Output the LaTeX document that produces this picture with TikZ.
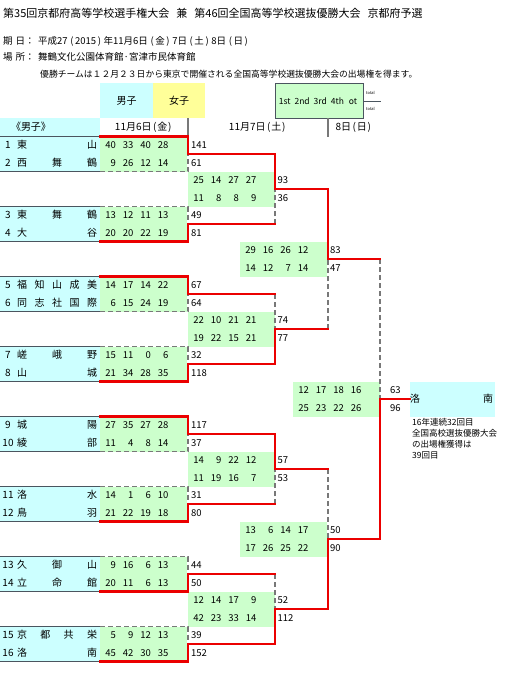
\documentclass[tikz,border=0pt]{standalone}
\usepackage{fontspec}
\setmainfont{Noto Sans CJK JP}
\definecolor{cy}{RGB}{204,255,255}
\definecolor{ye}{RGB}{255,255,153}
\definecolor{gr}{RGB}{204,255,204}
\definecolor{rd}{RGB}{235,0,0}
\definecolor{dg}{RGB}{120,120,120}
\definecolor{tl}{RGB}{75,85,95}
\newcommand\LP{\kern1.5pt(\kern0.8pt}
\newcommand\RP{\kern0.8pt)\kern1.5pt}
\newcommand\LPw{\kern2.6pt(\kern1.6pt}
\newcommand\RPw{\kern1.6pt)\kern2.6pt}
\pgfdeclarelayer{redl}
\pgfsetlayers{main,redl}
\tikzset{
  win/.style={draw=rd, line width=2.4pt, line cap=rect, line join=miter},
  lose/.style={draw=dg, line width=1.3pt, dash pattern=on 5pt off 3pt},
  tline/.style={draw=tl, line width=1.3pt},
  sepline/.style={draw=dg, line width=1.3pt},
  sc/.style={font=\fontsize{9.5}{10}\selectfont, inner sep=0pt, anchor=base east},
  tot/.style={font=\fontsize{9.5}{10}\selectfont, inner sep=0pt, anchor=base west},
  nm/.style={font=\fontsize{10}{11}\selectfont, inner sep=0pt, anchor=base},
  hd/.style={font=\fontsize{10}{11}\selectfont, inner sep=0pt, anchor=base},
  txt/.style={inner sep=0pt, anchor=base west},
}
\newcommand\teamrow[4]{%
  \pgfmathsetmacro\tyb{148.75+17.5*#2}
  \node[nm] (num#1) at (8,\tyb) {#1};
  \foreach \ch [count=\ii from 0] in {#4} {
    \pgfmathsetmacro\txc{22+70*\ii/(#3-1)}
    \node[nm] (nm#1c\ii) at (\txc,\tyb) {\ch};
  }
}
\newcommand\scorerow[5]{%
  \foreach \qv [count=\ii from 0] in {#3} {
    \node[sc] (q#1r#2c\ii) at ({#1+16+17.5*\ii},{148.75+17.5*#2}) {\qv};
  }
  \node[tot] (tot#1r#2) at (#4,{148.75+17.5*#2}) {#5};
}
\newcommand\rone[2]{%
  \pgfmathsetmacro\bkA{136.5+70*#1}
  \pgfmathsetmacro\bkB{171.5+70*#1}
  \pgfmathsetmacro\bkM{154+70*#1}
  \draw[tline] (0,\bkA) -- (100,\bkA);
  \draw[tline] (0,\bkB) -- (100,\bkB);
  \if#2t
    \draw[lose] (100,\bkB) -- (188,\bkB) -- (188,\bkM);
    \begin{pgfonlayer}{redl}
    \draw[win] (100,\bkA) -- (188,\bkA) -- (188,\bkM) -- (275,\bkM);
    \end{pgfonlayer}
  \else
    \draw[lose] (100,\bkA) -- (188,\bkA) -- (188,\bkM);
    \begin{pgfonlayer}{redl}
    \draw[win] (100,\bkB) -- (188,\bkB) -- (188,\bkM) -- (275,\bkM);
    \end{pgfonlayer}
  \fi
}
\newcommand\bk[5]{%
  \pgfmathsetmacro\bkM{(#2+#3)/2}
  \if#5t
    \draw[lose] (#1,#3) -- (#1,\bkM);
    \begin{pgfonlayer}{redl}
    \draw[win] (#1,#2) -- (#1,\bkM) -- (#4,\bkM);
    \end{pgfonlayer}
  \else
    \draw[lose] (#1,#2) -- (#1,\bkM);
    \begin{pgfonlayer}{redl}
    \draw[win] (#1,#3) -- (#1,\bkM) -- (#4,\bkM);
    \end{pgfonlayer}
  \fi
}
\begin{document}
\begin{tikzpicture}[x=1pt,y=-1pt]
\useasboundingbox (0,0) rectangle (517,680);
\fill[white] (0,0) rectangle (517,680);
% ---- header texts
\node[txt, font=\fontsize{11}{12}\selectfont] (title) at (3,17) {第35回京都府高等学校選手権大会\hspace{7pt}兼\hspace{7pt}第46回全国高等学校選抜優勝大会\hspace{7pt}京都府予選};
\node[txt, font=\fontsize{9.5}{10}\selectfont] (kijitsu) at (3,44.5) {期\hspace{3pt}日：};
\node[txt, font=\fontsize{9.5}{10}\selectfont] (kijitsuv) at (38,44.5) {平成27\LPw2015\RPw 年11月6日\LPw 金\RPw 7日\LPw 土\RPw 8日\LPw 日\RPw};
\node[txt, font=\fontsize{9.5}{10}\selectfont] (basho) at (3,60.5) {場\hspace{3pt}所：};
\node[txt, font=\fontsize{9.5}{10}\selectfont] (bashov) at (38,60.5) {舞鶴文化公園体育館·宮津市民体育館};
\node[txt, font=\fontsize{8.8}{10}\selectfont] (notice) at (40,77.3) {優勝チームは１２月２３日から東京で開催される全国高等学校選抜優勝大会の出場権を得ます。};
% ---- legend
\fill[cy] (100,83) rectangle (153,118);
\fill[ye] (153,83) rectangle (205,118);
\node[hd] (boys) at (126.5,104.8) {男子};
\node[hd] (girls) at (179,104.8) {女子};
\filldraw[fill=gr, draw=tl, line width=0.8pt] (275,83) rectangle (363,118);
\node[font=\fontsize{8.5}{9}\selectfont, inner sep=0pt, anchor=base] (legend) at (318,104.2) {1st\hspace{4pt}2nd\hspace{4pt}3rd\hspace{4pt}4th\hspace{5pt}ot};
\draw[tl, line width=0.8pt] (363,101) -- (381,101);
\node[font=\fontsize{4}{4}\selectfont, inner sep=0pt, anchor=base west] (totA) at (366,94.5) {total};
\node[font=\fontsize{4}{4}\selectfont, inner sep=0pt, anchor=base west] (totB) at (366,110.5) {total};
% ---- header row
\fill[cy] (0,118) rectangle (100,136.5);
\node[hd] (boyshd) at (31,130.5) {《男子》};
\node[hd] (d1) at (144,130.5) {11月6日\LP 金\RP};
\node[hd] (d2) at (258,130.5) {11月7日\LP 土\RP};
\node[hd] (d3) at (354,130.5) {8日\LP 日\RP};
\draw[sepline] (188,118) -- (188,136.5);
\draw[sepline] (328,118) -- (328,136.5);
% ---- fills
\foreach \k in {0,...,7} {
  \fill[cy] (0,{136.5+70*\k}) rectangle (100,{171.5+70*\k});
  \fill[gr] (100,{136.5+70*\k}) rectangle (187,{171.5+70*\k});
}
\foreach \k in {0,...,3} {
  \fill[gr] (188,{171.5+140*\k}) rectangle (275,{206.5+140*\k});
}
\foreach \k in {0,1} {
  \fill[gr] (240,{241.5+280*\k}) rectangle (327,{276.5+280*\k});
}
\fill[gr] (293,381.5) rectangle (380,416.5);
\fill[cy] (410,381.5) rectangle (495,416.5);
% ---- lines
\rone{0}{t} \rone{1}{b} \rone{2}{t} \rone{3}{b}
\rone{4}{t} \rone{5}{b} \rone{6}{b} \rone{7}{b}
\bk{275}{154}{224}{328}{t}
\bk{275}{294}{364}{328}{b}
\bk{275}{434}{504}{328}{t}
\bk{275}{574}{644}{328}{b}
\bk{328}{189}{329}{380}{t}
\bk{328}{469}{609}{380}{b}
\bk{380}{259}{539}{410}{b}
% ---- teams
\teamrow{1}{0}{2}{東,山}
\teamrow{2}{1}{3}{西,舞,鶴}
\teamrow{3}{4}{3}{東,舞,鶴}
\teamrow{4}{5}{2}{大,谷}
\teamrow{5}{8}{5}{福,知,山,成,美}
\teamrow{6}{9}{5}{同,志,社,国,際}
\teamrow{7}{12}{3}{嵯,峨,野}
\teamrow{8}{13}{2}{山,城}
\teamrow{9}{16}{2}{城,陽}
\teamrow{10}{17}{2}{綾,部}
\teamrow{11}{20}{2}{洛,水}
\teamrow{12}{21}{2}{鳥,羽}
\teamrow{13}{24}{3}{久,御,山}
\teamrow{14}{25}{3}{立,命,館}
\teamrow{15}{28}{4}{京,都,共,栄}
\teamrow{16}{29}{2}{洛,南}
% ---- scores round 1
\scorerow{100}{0}{40,33,40,28}{191}{141}
\scorerow{100}{1}{9,26,12,14}{191}{61}
\scorerow{100}{4}{13,12,11,13}{191}{49}
\scorerow{100}{5}{20,20,22,19}{191}{81}
\scorerow{100}{8}{14,17,14,22}{191}{67}
\scorerow{100}{9}{6,15,24,19}{191}{64}
\scorerow{100}{12}{15,11,0,6}{191}{32}
\scorerow{100}{13}{21,34,28,35}{191}{118}
\scorerow{100}{16}{27,35,27,28}{191}{117}
\scorerow{100}{17}{11,4,8,14}{191}{37}
\scorerow{100}{20}{14,1,6,10}{191}{31}
\scorerow{100}{21}{21,22,19,18}{191}{80}
\scorerow{100}{24}{9,16,6,13}{191}{44}
\scorerow{100}{25}{20,11,6,13}{191}{50}
\scorerow{100}{28}{5,9,12,13}{191}{39}
\scorerow{100}{29}{45,42,30,35}{191}{152}
% ---- round 2
\scorerow{188}{2}{25,14,27,27}{277.5}{93}
\scorerow{188}{3}{11,8,8,9}{277.5}{36}
\scorerow{188}{10}{22,10,21,21}{277.5}{74}
\scorerow{188}{11}{19,22,15,21}{277.5}{77}
\scorerow{188}{18}{14,9,22,12}{277.5}{57}
\scorerow{188}{19}{11,19,16,7}{277.5}{53}
\scorerow{188}{26}{12,14,17,9}{277.5}{52}
\scorerow{188}{27}{42,23,33,14}{277.5}{112}
% ---- round 3
\scorerow{240}{6}{29,16,26,12}{330}{83}
\scorerow{240}{7}{14,12,7,14}{330}{47}
\scorerow{240}{22}{13,6,14,17}{330}{50}
\scorerow{240}{23}{17,26,25,22}{330}{90}
% ---- final
\scorerow{293}{14}{12,17,18,16}{390}{63}
\scorerow{293}{15}{25,23,22,26}{390}{96}
% ---- champion
\node[nm] (champA) at (415,402.5) {洛};
\node[nm] (champB) at (488,402.5) {南};
\node[txt, font=\fontsize{8.5}{10}\selectfont] (note1) at (412,425.5) {16年連続32回目};
\node[txt, font=\fontsize{8.5}{10}\selectfont] (note2) at (412,436) {全国高校選抜優勝大会};
\node[txt, font=\fontsize{8.5}{10}\selectfont] (note3) at (412,447) {の出場権獲得は};
\node[txt, font=\fontsize{8.5}{10}\selectfont] (note4) at (412,458) {39回目};
\end{tikzpicture}
\end{document}
